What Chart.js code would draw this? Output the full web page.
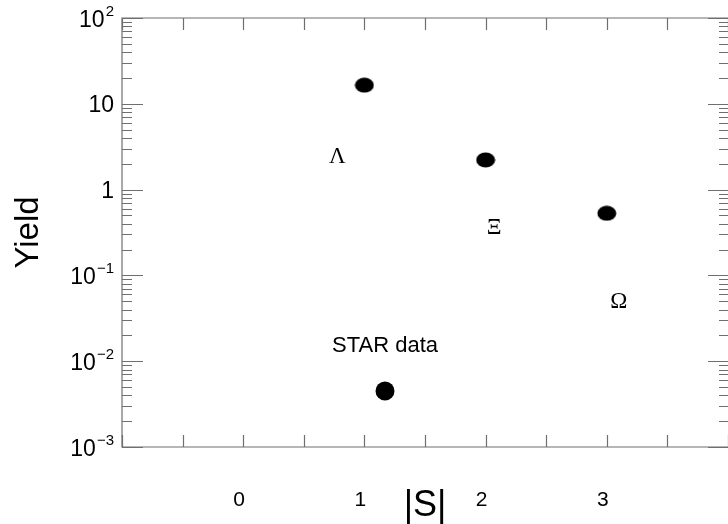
<!DOCTYPE html>
<html>
<head>
<meta charset="utf-8">
<script src="https://cdn.jsdelivr.net/npm/chart.js@4"></script>
<style>
  body { margin: 0; background: #fff; }
  canvas { display: block; }
</style>
</head>
<body>
<canvas id="grafico" width="728" height="524"></canvas>
<script>
// strangeness |S| and hyperon yield
const strangeness = [1, 2, 3];
const yields = [16.5, 2.22, 0.53];

// particle names written next to the points
const particulas = ['Λ', 'Ξ', 'Ω'];
const particulaX = [0.776, 2.07, 3.10];
const particulaY = [2.05, 0.304, 0.0413];

// axis ticks
const xLabels = [0, 1, 2, 3];
const yTickValues = [100, 10, 1, 0.1, 0.01, 0.001];
const yTickBase = ['10', '10', '1', '10', '10', '10'];
const yTickExp = ['2', '', '', '−1', '−2', '−3'];

const legendaTexto = 'STAR data';
const corEixo = '#6f6f6f';
const fonteSans = '"Liberation Sans", Arial, sans-serif';
const fonteSerif = '"Liberation Serif", "DejaVu Serif", serif';

// slightly flattened black dot used as marker
const marcador = document.createElement('canvas');
marcador.width = 20;
marcador.height = 16;
const mctx = marcador.getContext('2d');
mctx.fillStyle = '#000';
mctx.beginPath();
mctx.ellipse(10, 8, 9.5, 7.5, 0, 0, Math.PI * 2);
mctx.fill();

const eixosPlugin = {
  id: 'eixos',
  afterDraw(chart) {
    const ctx = chart.ctx;
    const area = chart.chartArea;
    const x = chart.scales.x;
    const y = chart.scales.y;

    ctx.save();
    ctx.strokeStyle = corEixo;
    ctx.lineWidth = 1.2;

    // frame: the right side falls on the canvas edge
    ctx.beginPath();
    ctx.moveTo(area.right + 1, area.top);
    ctx.lineTo(area.left, area.top);
    ctx.lineTo(area.left, area.bottom);
    ctx.lineTo(area.right + 1, area.bottom);
    ctx.stroke();

    // x ticks, pointing inward on bottom and top
    ctx.beginPath();
    x.ticks.forEach(t => {
      const px = Math.round(x.getPixelForValue(t.value)) + 0.5;
      ctx.moveTo(px, area.bottom);
      ctx.lineTo(px, area.bottom - 12);
      ctx.moveTo(px, area.top);
      ctx.lineTo(px, area.top + 12);
    });

    // y ticks: decades long, 2..9 short, both sides
    for (let e = -3; e <= 2; e++) {
      for (let m = 1; m <= 9; m++) {
        const v = m * Math.pow(10, e);
        if (v > 100 || v < 0.001) continue;
        const py = Math.round(y.getPixelForValue(v)) + 0.5;
        const len = m === 1 ? 21 : 10;
        ctx.moveTo(area.left, py);
        ctx.lineTo(area.left + len, py);
        ctx.moveTo(area.right + 1, py);
        ctx.lineTo(area.right + 1 - len, py);
      }
    }
    ctx.stroke();

    // y tick labels with exponents
    ctx.fillStyle = '#000';
    ctx.textBaseline = 'alphabetic';
    yTickValues.forEach((v, i) => {
      const py = y.getPixelForValue(v);
      let direita = 114;
      if (yTickExp[i]) {
        ctx.font = '15px ' + fonteSans;
        ctx.textAlign = 'right';
        ctx.fillText(yTickExp[i], direita, py - 2);
        direita -= ctx.measureText(yTickExp[i]).width + 1;
      }
      ctx.font = '23px ' + fonteSans;
      ctx.textAlign = 'right';
      ctx.fillText(yTickBase[i], direita, py + 8.5);
    });

    // axis titles
    ctx.font = '33px ' + fonteSans;
    ctx.textAlign = 'center';
    ctx.textBaseline = 'middle';
    ctx.save();
    ctx.translate(29, (area.top + area.bottom) / 2);
    ctx.rotate(-Math.PI / 2);
    ctx.fillText('Yield', 0, 0);
    ctx.restore();

    ctx.font = '36px ' + fonteSans;
    ctx.textBaseline = 'alphabetic';
    ctx.fillText('|S|', (area.left + area.right) / 2, 516);

    // particle names
    ctx.font = '23px ' + fonteSerif;
    particulas.forEach((p, i) => {
      ctx.fillText(p, x.getPixelForValue(particulaX[i]), y.getPixelForValue(particulaY[i]));
    });

    // legend: text above a round marker
    const lx = area.left + (area.right - area.left) * 0.434;
    ctx.font = '22px ' + fonteSans;
    ctx.fillText(legendaTexto, lx, 352);
    ctx.beginPath();
    ctx.arc(lx, 391, 9.5, 0, Math.PI * 2);
    ctx.fill();
    ctx.restore();
  }
};

new Chart(document.getElementById('grafico'), {
  type: 'scatter',
  data: {
    datasets: [{
      label: legendaTexto,
      data: strangeness.map((s, i) => ({ x: s, y: yields[i] })),
      pointStyle: marcador,
      backgroundColor: '#000',
      borderColor: '#000'
    }]
  },
  options: {
    responsive: false,
    animation: false,
    devicePixelRatio: 1,
    layout: { autoPadding: false, padding: { top: 18, right: 0, left: 0, bottom: 0 } },
    plugins: {
      legend: { display: false },
      tooltip: { enabled: false }
    },
    scales: {
      x: {
        type: 'linear',
        min: -1,
        max: 4,
        afterFit: s => {
          s.height = 77;
          s.paddingLeft = 0;
          s.paddingRight = 0;
        },
        grid: { display: false, drawTicks: true, tickLength: 38 },
        border: { display: false },
        ticks: {
          stepSize: 0.5,
          autoSkip: false,
          maxRotation: 0,
          padding: 3,
          labelOffset: -4,
          color: '#000',
          font: { family: fonteSans, size: 21 },
          callback: v => xLabels.includes(v) ? String(v) : ''
        }
      },
      y: {
        type: 'logarithmic',
        min: 0.001,
        max: 100,
        afterFit: s => { s.width = 122; },
        grid: { display: false, drawTicks: false },
        border: { display: false },
        ticks: { display: false }
      }
    }
  },
  plugins: [eixosPlugin]
});
</script>
</body>
</html>
